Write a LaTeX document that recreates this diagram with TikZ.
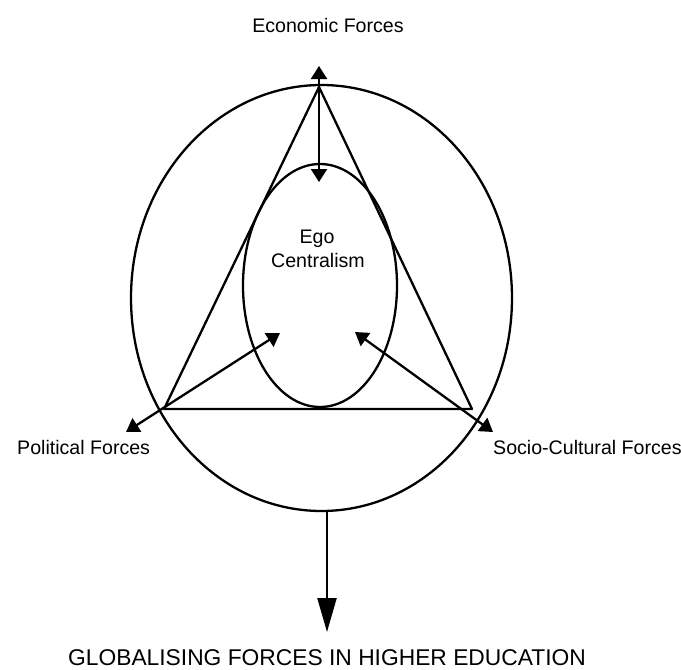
\documentclass[tikz,border=0pt]{standalone}
\usepackage{fontspec}
\setmainfont{Liberation Sans}
\usetikzlibrary{arrows.meta,shapes.geometric}
\begin{document}
\begin{tikzpicture}[x=1pt,y=-1pt,
  stroke/.style={line width=2.3pt, line join=round},
  oval/.style={draw, ellipse, stroke, inner sep=0pt},
  smalltip/.style={-{Triangle[length=13pt,width=16pt]}},
  bothtips/.style={{Triangle[length=13pt,width=16pt]}-{Triangle[length=13pt,width=16pt]}},
  bigtip/.style={-{Triangle[length=34pt,width=19pt]}},
  lab/.style={inner sep=0pt, font=\fontsize{19.6}{23}\selectfont},
  biglab/.style={inner sep=0pt, font=\fontsize{22.8}{27}\selectfont}]
\useasboundingbox (0,0) rectangle (681,670);
% ellipses
\node[oval, minimum width=381pt, minimum height=426pt] (outer) at (321.5,298) {};
\node[oval, minimum width=154pt, minimum height=243pt] (inner) at (320,285.5) {};
% triangle
\coordinate (apex) at (319,87);
\coordinate (bl) at (164,409);
\coordinate (br) at (472,409);
\draw[stroke] (apex) -- (bl) -- (br) -- cycle;
% economic arrows
\coordinate (ectop) at (319,66);
\coordinate (ecdown) at (319,182);
\draw[stroke, smalltip] (apex) -- (ectop);
\draw[stroke, smalltip] (apex) -- (ecdown);
% political arrow
\coordinate (poltip) at (126,432);
\coordinate (polin) at (280,333);
\draw[stroke, bothtips] (poltip) -- (polin);
% socio-cultural arrow
\coordinate (soctip) at (493,432);
\coordinate (socin) at (355,332);
\draw[stroke, bothtips] (soctip) -- (socin);
% bottom arrow
\coordinate (outbot) at (327,511);
\coordinate (globtip) at (327,632);
\draw[stroke, bigtip] (outbot) -- (globtip);
% labels
\node[lab, anchor=base] (econ) at (328,32) {Economic Forces};
\node[lab, anchor=base] (ego) at (317,243) {Ego};
\node[lab, anchor=base] (central) at (318,267) {Centralism};
\node[lab, anchor=base west] (pol) at (17,454) {Political Forces};
\node[lab, anchor=base west] (soc) at (493,454) {Socio-Cultural Forces};
\node[biglab, anchor=base] (glob) at (327,665) {GLOBALISING FORCES IN HIGHER EDUCATION};
\end{tikzpicture}
\end{document}
